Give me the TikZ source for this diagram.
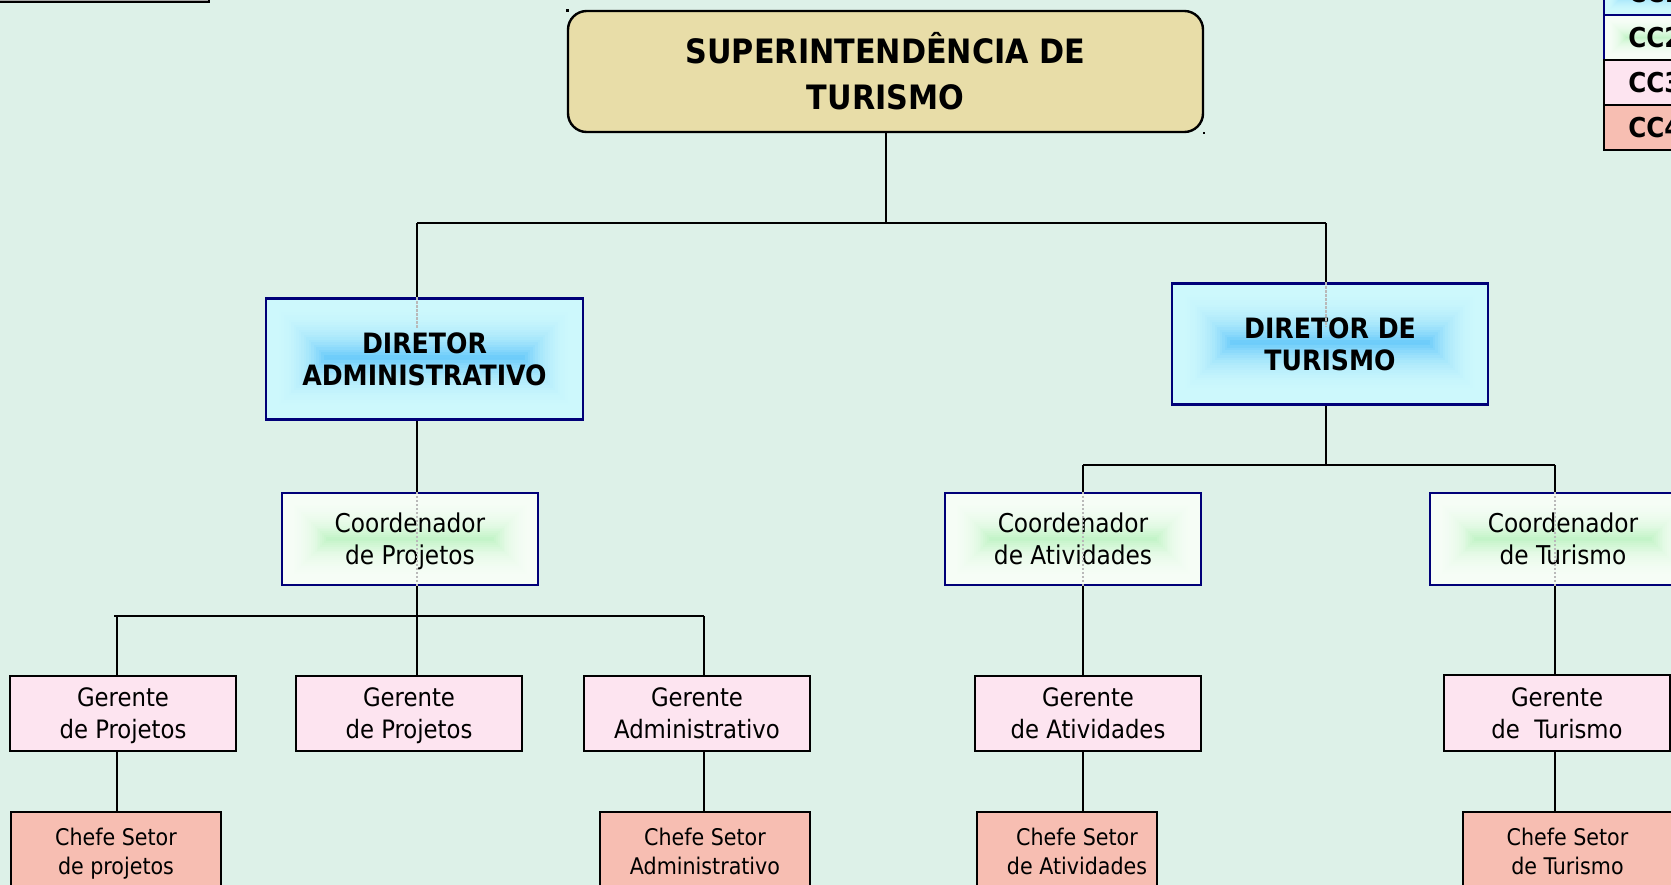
\documentclass[tikz,border=0pt]{standalone}
\usepackage{fontspec}
\setmainfont{DejaVu Sans Condensed}
\definecolor{bg}{RGB}{221,241,232}
\definecolor{tan}{RGB}{232,221,168}
\definecolor{dirE}{RGB}{205,248,252}
\definecolor{dirC}{RGB}{100,200,250}
\definecolor{coE}{RGB}{246,253,246}
\definecolor{coC}{RGB}{190,243,195}
\definecolor{pinkf}{RGB}{253,228,240}
\definecolor{salm}{RGB}{247,190,178}
\definecolor{navyb}{RGB}{0,0,120}
\newcommand\glowbox[6]{%
  \fill[#5] (#1,#2) rectangle (#3,#4);
  \pgfmathsetmacro\hh{(#4-#2)/2}
  \foreach \k in {1,...,24}{
    \pgfmathsetmacro\ins{\hh*\k/24}
    \pgfmathtruncatemacro\pc{100*(\k/24)^2.6}
    \fill[#6!\pc!#5] ({#1+\ins},{#2+\ins}) rectangle ({#3-\ins},{#4-\ins});
  }}
\begin{document}
\begin{tikzpicture}[x=0.75pt,y=-0.75pt,
  conn/.style={line width=1.5pt},
  ghost/.style={draw=gray!55, line width=1pt, dash pattern=on 2pt off 1pt},
  sz/.style 2 args={minimum width={#1*0.75pt}, minimum height={#2*0.75pt}},
  basebox/.style={inner sep=0pt, align=center, font=\fontsize{19}{24}\selectfont},
  titlebox/.style={basebox, draw, line width=1.8pt, fill=tan, rounded corners=14pt, font=\fontsize{25.2}{34.5}\selectfont\bfseries},
  dirbox/.style={basebox, draw=navyb, line width=1.8pt, font=\fontsize{21}{24}\selectfont\bfseries},
  coordbox/.style={basebox, text depth=0pt, draw=navyb, line width=1.8pt, font=\fontsize{19.4}{24}\selectfont},
  gerbox/.style={basebox, text depth=0pt, draw, line width=1.5pt, fill=pinkf},
  chefbox/.style={basebox, text depth=0pt, draw, line width=1.5pt, fill=salm, font=\fontsize{17.2}{22}\selectfont},
  legnavy/.style={basebox, draw=navyb, line width=1.5pt, font=\fontsize{20.5}{24}\selectfont\bfseries},
  legblack/.style={basebox, draw, line width=1.5pt, font=\fontsize{20.5}{24}\selectfont\bfseries}
]
\useasboundingbox[fill=bg] (0,0) rectangle (1671,885);

% top-left cut box
\draw[fill=white, line width=1pt] (-10,-20) rectangle (209,2);
\draw[gray!70, line width=0.75pt] (-10,0.3) -- (207.3,0.3) -- (207.3,-20);

% legend
\glowbox{1604}{-30}{1706}{15}{dirE}{dirC}
\node[legnavy, sz={102}{45}] (cc1) at (1655,-7.5) {CC1};
\glowbox{1604}{15}{1706}{60}{coE}{coC}
\node[legnavy, sz={102}{45}] (cc2) at (1655,37.5) {CC2};
\node[legblack, fill=pinkf, sz={102}{45}] (cc3) at (1655,82.5) {CC3};
\node[legblack, fill=salm, sz={102}{45}] (cc4) at (1655,127.5) {CC4};

% title
\node[titlebox, sz={635}{121}] (sup) at (885.5,71.5) {SUPERINTENDÊNCIA DE\\TURISMO};
\fill (566,9) rectangle (568.5,11.5);
\fill (1202.5,131.5) rectangle (1205,134);

% directors
\glowbox{266}{297}{583}{418}{dirE}{dirC}
\node[dirbox, sz={317}{121}] (dadm) at (424.5,359) {DIRETOR\\ADMINISTRATIVO};
\glowbox{1172}{282}{1488}{403}{dirE}{dirC}
\node[dirbox, sz={316}{121}] (dtur) at (1330,344) {DIRETOR DE\\TURISMO};

% coordinators
\glowbox{282}{493}{538}{585}{coE}{coC}
\node[coordbox, sz={256}{92}] (cproj) at (410,539) {Coordenador\\de Projetos};
\glowbox{945}{493}{1201}{585}{coE}{coC}
\node[coordbox, sz={256}{92}] (catv) at (1073,539) {Coordenador\\de Atividades};
\glowbox{1430}{493}{1696}{585}{coE}{coC}
\node[coordbox, sz={266}{92}] (ctur) at (1563,539) {Coordenador\\de Turismo};

% managers
\node[gerbox, sz={226}{75}] (g1) at (123,713.5) {Gerente\\de Projetos};
\node[gerbox, sz={226}{75}] (g2) at (409,713.5) {Gerente\\de Projetos};
\node[gerbox, sz={226}{75}] (g3) at (697,713.5) {Gerente\\Administrativo};
\node[gerbox, sz={226}{75}] (gatv) at (1088,713.5) {Gerente\\de Atividades};
\node[gerbox, sz={226}{76}] (gtur) at (1557,713) {Gerente\\de~ Turismo};

% section heads
\node[chefbox, sz={210}{78}] (ch1) at (116,851) {Chefe Setor\\de projetos};
\node[chefbox, sz={210}{78}] (ch3) at (705,851) {Chefe Setor\\Administrativo};
\node[chefbox, sz={180}{78}] (chatv) at (1067,851) {\hspace*{15pt}Chefe Setor\\\hspace*{15pt}de Atividades};
\node[chefbox, sz={209}{78}] (chtur) at (1567.5,851) {Chefe Setor\\de Turismo};

% connectors
\coordinate (h1L) at (417,223);
\coordinate (h1R) at (1326,223);
\coordinate (h2L) at (1083,465);
\coordinate (h2R) at (1555,465);
\coordinate (h3L) at (117,616);
\coordinate (h3R) at (704,616);
\coordinate (h3S) at (114,616);

\draw[conn] (sup.south) -- (sup.south |- h1L);
\draw[conn] (h1L) -- (h1R);
\draw[conn] (h1L) -- (h1L |- dadm.north);
\draw[conn] (h1R) -- (h1R |- dtur.north);
\draw[conn] (h1L |- dadm.south) -- (h1L |- cproj.north);
\draw[conn] (h1R |- dtur.south) -- (h1R |- h2L);
\draw[conn] (h2L) -- (h2R);
\draw[conn] (h2L) -- (h2L |- catv.north);
\draw[conn] (h2R) -- (h2R |- ctur.north);
\draw[conn] (h1L |- cproj.south) -- (h1L |- g2.north);
\draw[conn] (h3S) -- (h3R);
\draw[conn] (h3L) -- (h3L |- g1.north);
\draw[conn] (h3R) -- (h3R |- g3.north);
\draw[conn] (h3L |- g1.south) -- (h3L |- ch1.north);
\draw[conn] (h3R |- g3.south) -- (h3R |- ch3.north);
\draw[conn] (h2L |- catv.south) -- (h2L |- gatv.north);
\draw[conn] (h2L |- gatv.south) -- (h2L |- chatv.north);
\draw[conn] (h2R |- ctur.south) -- (h2R |- gtur.north);
\draw[conn] (h2R |- gtur.south) -- (h2R |- chtur.north);

% faint continuation of connectors inside boxes
\draw[ghost] (h1L |- dadm.north) -- ++(0,31);
\draw[ghost] (h1R |- dtur.north) -- ++(0,45);
\draw[ghost] (h1L |- cproj.north) -- (h1L |- cproj.south);
\draw[ghost] (h2L |- catv.north) -- (h2L |- catv.south);
\draw[ghost] (h2R |- ctur.north) -- (h2R |- ctur.south);
\end{tikzpicture}
\end{document}
